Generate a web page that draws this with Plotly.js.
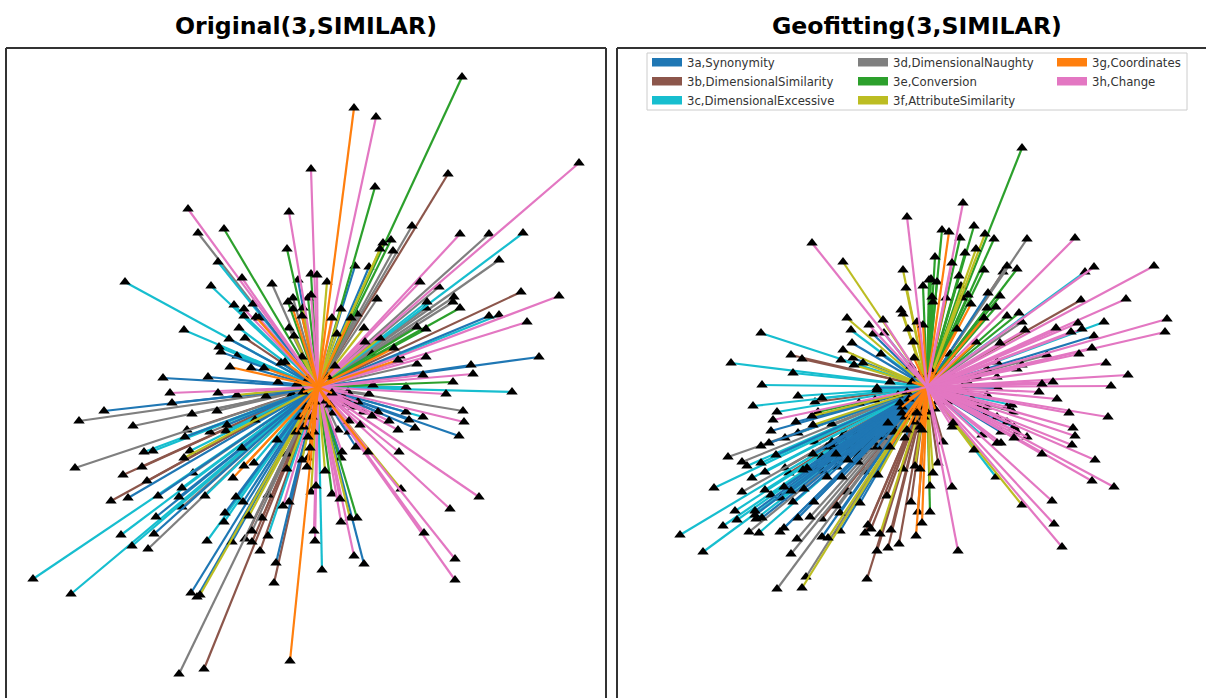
<!DOCTYPE html>
<html><head><meta charset="utf-8">
<script src="https://cdn.plot.ly/plotly-3.0.1.min.js"></script>
<style>html,body{margin:0;padding:0;background:#fff;overflow:hidden}</style>
</head><body><div id="chart" style="width:1206px;height:698px"></div>
<script>
const seriesNames = ["3a,Synonymity","3b,DimensionalSimilarity","3c,DimensionalExcessive","3d,DimensionalNaughty","3e,Conversion","3f,AttributeSimilarity","3g,Coordinates","3h,Change"];
const seriesColors = ["#1f77b4","#8c564b","#17becf","#7f7f7f","#2ca02c","#bcbd22","#ff7f0e","#e377c2"];
const panelTitles = ["Original(3,SIMILAR)","Geofitting(3,SIMILAR)"];

// Original panel: edge end points relative to the shared source node
const origSynonymity = [[-20,107],[-65,83],[-89,48],[-97,35],[-37,24],[-67,19],[-155,9],[-110,10],[-40,5],[-52,-9],[-146,-16],[-214,-24],[-91,-38],[-133,-50],[-63,-33],[-76,-61],[-190,-111],[-160,-109],[-139,-110],[-162,-130],[-164,-147],[-42,-176],[-127,-206],[-121,-210],[-86,-155],[-93,-126],[-82,-110],[-75,-115],[-29,-115],[-41,-53],[-10,-71],[37,121],[51,120],[54,33],[221,30],[153,22],[171,71],[141,-49],[88,-25],[91,-33],[97,-41],[60,-25],[31,-45],[15,-26],[38,-60],[23,-71],[46,-177]];
const origSimilarity = [[-73,49],[130,213],[203,95],[82,31],[-131,-43],[-176,-80],[-195,-88],[-171,-94],[-207,-114],[-114,-282],[-44,-196],[-73,-152],[-66,-155],[-58,-164],[-56,-131],[-50,-108],[-31,-67],[-24,-40]];
const origExcessive = [[-100,125],[-193,105],[-107,101],[-84,82],[-74,71],[-79,59],[-134,57],[-99,40],[-81,31],[205,154],[181,72],[109,85],[88,0],[-92,-44],[-174,-65],[-165,-64],[-128,-64],[-136,-101],[-113,-109],[-197,-148],[-186,-159],[-285,-192],[-247,-207],[-111,-154],[-50,-149],[-94,-135],[-64,-76],[194,-5],[105,-30],[4,-183]];
const origNaughty = [[-120,154],[-46,103],[-25,89],[-29,59],[94,161],[75,136],[171,153],[181,127],[121,100],[59,88],[39,73],[136,90],[108,79],[135,85],[99,23],[14,13],[-26,-7],[-239,-34],[-126,-27],[-101,-24],[-185,-39],[-108,-45],[-243,-81],[-125,-86],[-136,-120],[-170,-162],[-139,-287],[-66,-144],[145,-24],[51,-7],[20,-43]];
const origConversion = [[-94,158],[-31,138],[-30,85],[-10,89],[-7,113],[144,310],[57,200],[73,147],[142,79],[99,60],[108,58],[135,5],[55,2],[39,-131],[14,-107]];
const origAttribute = [[-15,79],[-24,51],[-16,30],[-21,3],[65,144],[62,138],[9,105],[23,78],[46,59],[19,53],[62,49],[-81,-8],[-134,-71],[-118,-208],[-69,-129],[-31,-82],[-16,-73],[-7,-105],[28,-17],[83,-102],[7,-84],[32,-131]];
const origCoordinates = [[-25,78],[-16,71],[-62,70],[-33,25],[-88,20],[-54,19],[36,279],[14,69],[33,69],[76,39],[80,27],[17,21],[-28,-274],[-85,-91],[-74,-79],[-11,-80],[-10,-50],[-8,-61],[50,-65]];
const origChange = [[-7,218],[-130,178],[-29,175],[-76,109],[-74,78],[-59,69],[-7,92],[-1,112],[58,270],[261,224],[142,153],[102,105],[241,91],[209,65],[47,45],[108,30],[155,13],[105,12],[-148,-6],[-100,-6],[-35,-119],[-2,-99],[-4,-144],[-3,-154],[128,-7],[146,-35],[80,-43],[71,-34],[54,-29],[31,-34],[42,-38],[81,-65],[24,-65],[161,-110],[132,-122],[106,-146],[137,-172],[137,-193],[36,-169],[23,-135],[22,-112]];
// short edges whose heads are buried under the fan of lines
const origCoordinatesHidden = [[-12,-20],[-6,-30],[-18,-30],[-3,-15],[10,10],[-10,8],[14,-6],[-15,-5],[8,-14],[-22,-45],[-14,-40],[-4,-45],[12,-18]];
const origChangeHidden = [[25,-10],[30,-15],[35,-20],[40,-15],[45,-25],[30,-5]];

// Geofitting panel
const geoSynonymity = [[-54,53],[-43,54],[-75,44],[-46,33],[-74,29],[-50,-1],[61,94],[167,51],[23,33],[-131,-35],[-156,-44],[-158,-56],[-151,-68],[-114,-67],[-124,-83],[-120,-81],[-91,-67],[-79,-73],[-100,-90],[-85,-90],[-143,-100],[-136,-104],[-123,-102],[-134,-115],[-172,-124],[-172,-128],[-129,-131],[-113,-115],[-67,-116],[-165,-131],[-147,-145],[-143,-141],[-87,-126],[-105,-150],[-87,-144],[-22,-51],[-32,-45],[-39,-36],[-25,-26],[-27,-16],[-29,-8],[-68,-16],[-52,-13],[71,-1],[87,-40],[74,-45],[60,-26]];
const geoSimilarity = [[-136,32],[-125,28],[-112,-15],[-82,-46],[-112,-55],[-142,-81],[-138,-86],[-79,-105],[-62,-85],[-40,-109],[-105,-132],[-59,-138],[-62,-146],[-56,-142],[-36,-143],[-50,-164],[-39,-161],[-28,-157],[-60,-192],[-24,-82],[-16,-115],[-9,-125],[76,115],[154,87],[16,-55],[11,-76]];
const geoExcessive = [[-76,57],[-166,54],[-86,27],[-196,24],[-134,14],[-37,5],[-165,2],[-129,-9],[-174,-19],[-105,-11],[-150,-25],[-129,-46],[-166,-76],[-180,-79],[-213,-101],[-175,-91],[-162,-85],[-162,-103],[-156,-108],[-146,-111],[-192,-124],[-190,-133],[-204,-139],[-171,-132],[-168,-146],[-247,-148],[-224,-165],[-50,-3],[158,115],[177,65],[85,-18],[55,-48],[69,-90]];
const geoNaughty = [[100,148],[80,121],[95,65],[120,32],[-142,-51],[-95,-37],[-166,-59],[-199,-70],[-185,-75],[-69,-75],[-185,-105],[-90,-119],[-178,-145],[-117,-130],[-130,-152],[-136,-167],[-150,-202],[-121,-190],[86,-25]];
const geoConversion = [[-4,101],[2,107],[15,157],[47,161],[67,148],[33,149],[8,130],[38,134],[57,117],[90,118],[32,111],[4,108],[10,105],[34,101],[5,90],[6,85],[35,89],[41,92],[73,91],[60,79],[69,80],[80,71],[92,74],[95,239],[95,22],[3,-125],[-109,-25]];
const geoAttribute = [[-84,125],[-24,117],[-21,99],[-26,77],[-24,73],[-80,69],[-19,58],[-14,45],[-84,37],[-73,22],[-64,24],[-16,21],[58,153],[49,138],[-115,-29],[-114,-38],[-49,-88],[-125,-201],[-99,-151],[-47,-147],[-12,-79],[3,-99],[6,-86],[47,-63],[95,-118]];
const geoCoordinates = [[-10,65],[-4,62],[-13,29],[22,155],[19,89],[44,83],[57,69],[49,45],[30,58],[-11,-149],[-5,-136],[-7,-82],[-37,-60],[-10,-26],[-7,-40],[-20,-43],[-5,-43]];
const geoChange = [[-20,170],[-115,144],[-44,67],[-58,62],[36,184],[148,149],[25,124],[167,120],[227,121],[199,88],[240,68],[238,55],[151,64],[129,59],[144,55],[155,58],[165,39],[152,33],[179,24],[201,12],[184,1],[126,5],[115,3],[73,44],[98,57],[-154,-33],[112,-5],[130,-12],[142,-26],[181,-30],[146,-41],[148,-49],[145,-58],[168,-73],[165,-94],[187,-100],[115,-67],[87,-51],[70,-56],[74,-56],[26,-36],[25,-40],[25,-100],[31,-164],[125,-114],[127,-137],[135,-160]];
const geoSynonymityHidden = [[-100,-75],[-95,-65],[-90,-80],[-80,-60],[-70,-70],[-75,-55],[-60,-60],[-110,-80],[-105,-70],[-65,-50],[-55,-55],[-50,-60],[-45,-50],[-85,-50],[-95,-55],[-70,-45],[-60,-40],[-100,-60],[-88,-72],[-78,-66],[-66,-64],[-56,-48],[-104,-84],[-92,-58],[-40,-45],[-35,-38]];
const geoCoordinatesHidden = [[-15,-25],[-22,-30],[-12,-35],[-25,-20],[-8,-20],[-18,-12],[-20,-5],[-15,5],[-8,12],[0,-25],[-3,-30],[8,-22],[5,15],[10,-15]];
const geoChangeHidden = [[30,8],[35,0],[30,-8],[28,-14],[25,12],[40,-5],[40,6],[35,-14],[20,-15],[45,-12],[50,-18],[50,10],[60,-20],[60,-8],[70,-30],[80,-35],[70,10],[80,-20],[90,-45],[100,-50],[60,18],[70,25],[90,18]];

// drawing order of series: index into the series arrays, plus visible and buried edges
const origLayers = [[1,origSimilarity,[]],[3,origNaughty,[]],[2,origExcessive,[]],[0,origSynonymity,[]],[4,origConversion,[]],[5,origAttribute,[]],[7,origChange,origChangeHidden],[6,origCoordinates,origCoordinatesHidden]];
const geoLayers = [[1,geoSimilarity,[]],[3,geoNaughty,[]],[2,geoExcessive,[]],[0,geoSynonymity,geoSynonymityHidden],[4,geoConversion,[]],[5,geoAttribute,[]],[6,geoCoordinates,geoCoordinatesHidden],[7,geoChange,geoChangeHidden]];

const W = 1206, H = 698;
const traces = [];
function markers(pts, xa, ya) {
  return {type:'scatter', mode:'markers', x:pts.map(p=>p[0]), y:pts.map(p=>p[1]), xaxis:xa, yaxis:ya,
    marker:{symbol:'triangle-up', size:10, color:'#000', line:{width:0}}, showlegend:false, hoverinfo:'skip'};
}
function addPanel(layers, xa, ya) {
  layers.forEach(([ci, pts, hidden]) => {
    if (hidden.length) traces.push(markers(hidden, xa, ya));
    const xs = [], ys = [];
    hidden.concat(pts).forEach(p => { xs.push(0, p[0], null); ys.push(0, p[1], null); });
    traces.push({type:'scatter', mode:'lines', x:xs, y:ys, xaxis:xa, yaxis:ya,
      line:{color:seriesColors[ci], width:2.2}, showlegend:false, hoverinfo:'skip'});
    traces.push(markers(pts, xa, ya));
  });
}
addPanel(origLayers, 'x', 'y');
addPanel(geoLayers, 'x2', 'y2');

// Legend entries: three columns, three native legends
const legendOf = [ 'legend','legend','legend','legend2','legend2','legend2','legend3','legend3' ];
seriesNames.forEach((name,i) => {
  traces.push({type:'scatter', mode:'lines', x:[null,null], y:[null,null], xaxis:'x2', yaxis:'y2',
    name:name, legend:legendOf[i], showlegend:true, fill:'toself', fillcolor:seriesColors[i],
    line:{color:seriesColors[i], width:5}});
});
const legendBase = {bgcolor:'rgba(0,0,0,0)', borderwidth:0, font:{family:'DejaVu Sans', size:11.7, color:'#333'},
  xanchor:'left', yanchor:'top', itemwidth:30, orientation:'v', tracegroupgap:0};
const axisBase = {showgrid:false, zeroline:false, showticklabels:false, ticks:'', showline:false};
const frame = '#333333';
const topEdge = 1 - 48/H;
const layout = {
  width:W, height:H, margin:{l:0,r:0,t:0,b:0}, paper_bgcolor:'#fff', plot_bgcolor:'#fff',
  xaxis:{...axisBase, domain:[6/W,606/W], range:[-312,288]},
  yaxis:{...axisBase, domain:[0,topEdge], range:[-311,339]},
  xaxis2:{...axisBase, domain:[617/W,1], range:[-310,279]},
  yaxis2:{...axisBase, domain:[0,topEdge], range:[-311,339]},
  legend:{...legendBase, x:647/W, y:1-48/H},
  legend2:{...legendBase, x:853/W, y:1-48/H},
  legend3:{...legendBase, x:1052/W, y:1-48/H},
  shapes:[
    {type:'line', xref:'paper', yref:'paper', x0:6/W, x1:606/W, y0:topEdge, y1:topEdge, line:{color:frame,width:2}},
    {type:'line', xref:'paper', yref:'paper', x0:6/W, x1:6/W, y0:0, y1:topEdge, line:{color:frame,width:2}},
    {type:'line', xref:'paper', yref:'paper', x0:606/W, x1:606/W, y0:0, y1:topEdge, line:{color:frame,width:2}},
    {type:'line', xref:'paper', yref:'paper', x0:617/W, x1:1, y0:topEdge, y1:topEdge, line:{color:frame,width:2}},
    {type:'line', xref:'paper', yref:'paper', x0:617/W, x1:617/W, y0:0, y1:topEdge, line:{color:frame,width:2}},
    {type:'rect', xref:'paper', yref:'paper', x0:647/W, x1:1187/W, y0:1-53/H, y1:1-110/H, layer:'above',
      fillcolor:'rgba(255,255,255,0.85)', line:{color:'#cccccc',width:1}}
  ],
  annotations:[
    {text:'<b>'+panelTitles[0]+'</b>', xref:'paper', yref:'paper', x:306/W, y:1-26/H, showarrow:false, xanchor:'center', yanchor:'middle', font:{family:'DejaVu Sans', size:23.6, color:'#000'}},
    {text:'<b>'+panelTitles[1]+'</b>', xref:'paper', yref:'paper', x:917/W, y:1-26/H, showarrow:false, xanchor:'center', yanchor:'middle', font:{family:'DejaVu Sans', size:23.6, color:'#000'}}
  ]
};
Plotly.newPlot('chart', traces, layout, {displayModeBar:false, staticPlot:true});
</script></body></html>
